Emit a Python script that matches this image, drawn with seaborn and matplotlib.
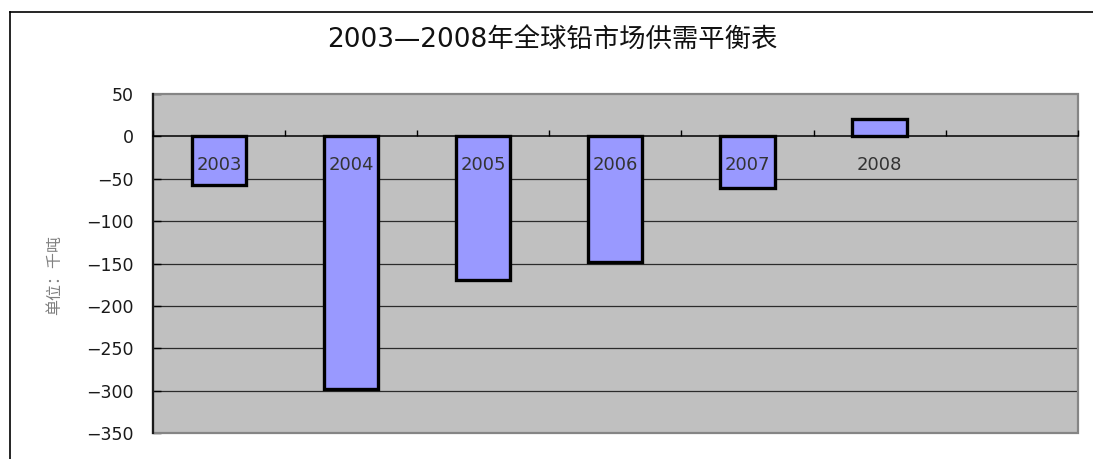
import numpy as np
import matplotlib
matplotlib.use("Agg")
import matplotlib.pyplot as plt
from matplotlib.lines import Line2D
from matplotlib.patches import Rectangle
import seaborn as sns

# Global lead market supply/demand balance (thousand tonnes)
years = ["2003", "2004", "2005", "2006", "2007", "2008"]
balance = [-57, -298, -169, -148, -61, 20]
n_slots = 7  # category axis keeps one empty slot after 2008
y_ticks = list(range(-350, 51, 50))
title = "2003—2008年全球铅市场供需平衡表"
y_label = "单位：千吨"

plt.rcParams["font.family"] = ["DejaVu Sans", "Noto Sans CJK SC"]
plt.rcParams["axes.unicode_minus"] = True

fig = plt.figure(figsize=(10.93, 4.59), dpi=100)
fig.patch.set_facecolor("white")
ax = fig.add_axes([0.140, 0.0566, 0.846, 0.7385])
ax.set_facecolor("#C0C0C0")

sns.barplot(x=years, y=balance, ax=ax, color="#9999FF", saturation=1,
            width=0.41, edgecolor="black", linewidth=2.4, zorder=1)

ax.set_xlim(-0.5, n_slots - 0.5)
ax.set_ylim(y_ticks[0], y_ticks[-1])
ax.set_yticks(y_ticks)
ax.grid(False)
for y in y_ticks:
    if y_ticks[0] < y < y_ticks[-1] and y != 0:
        ax.axhline(y, color="#2b2b2b", lw=0.9, zorder=0.5)

# spines: category axis runs along zero, plot area framed in grey
for side in ("top", "right"):
    ax.spines[side].set_visible(False)
ax.spines["left"].set_color("#1a1a1a")
ax.spines["left"].set_linewidth(1.6)
ax.spines["bottom"].set_position(("data", 0))
ax.spines["bottom"].set_color("black")
ax.spines["bottom"].set_linewidth(1.1)
ax.add_patch(Rectangle((0, 0), 1, 1, transform=ax.transAxes, fill=False,
                       edgecolor="#858585", lw=1.6, zorder=0.6, clip_on=False))

ax.tick_params(axis="y", direction="in", length=6, width=1, color="black",
               labelsize=12.5, pad=14, labelcolor="#1a1a1a")
ax.set_xticks(range(len(years)))
ax.set_xticklabels(years)
ax.tick_params(axis="x", which="major", length=0, pad=14, labelsize=13,
               labelcolor="#333333")
ax.set_xticks(np.arange(-0.5, n_slots, 1), minor=True)
ax.tick_params(axis="x", which="minor", direction="in", length=4, width=1,
               color="black")
ax.set_xlabel("")
ax.set_ylabel(y_label, fontsize=11.5, color="#808080",
              family=["Noto Sans CJK SC", "DejaVu Sans"])
ax.yaxis.set_label_coords(-0.097, 0.466)

# grid lines under the bars, category labels over them
ax.yaxis.set_zorder(0.5)
ax.xaxis.set_zorder(3)

fig.text(0.5055, 0.911, title, ha="center", va="center", fontsize=19,
         color="#111111")

# outer chart frame
x0 = 10 / 1093
y0 = 1 - 12 / 459
fig.add_artist(Line2D([x0, 1], [y0, y0], transform=fig.transFigure,
                      color="black", lw=1.2))
fig.add_artist(Line2D([x0, x0], [0, y0], transform=fig.transFigure,
                      color="black", lw=1.2))

fig.savefig("out.png", dpi=100)
